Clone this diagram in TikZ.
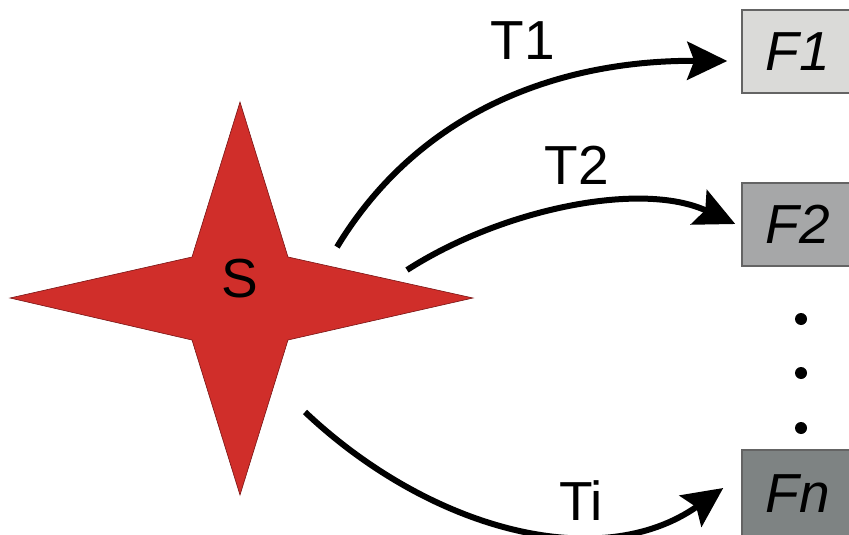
\documentclass[tikz,border=0pt]{standalone}
\usepackage{fontspec}
\setmainfont{Liberation Sans}
\usetikzlibrary{arrows.meta}

\definecolor{starred}{RGB}{208,46,42}
\definecolor{stardark}{RGB}{120,20,20}
\definecolor{boxA}{RGB}{218,218,216}
\definecolor{boxB}{RGB}{166,167,168}
\definecolor{boxC}{RGB}{126,131,131}
\definecolor{boxline}{RGB}{100,100,100}

\tikzset{
  bigfont/.style={font=\fontsize{55}{60}\selectfont},
  target/.style={draw=boxline, line width=1.5pt, minimum width=112pt, minimum height=83pt,
                 inner sep=0pt, font=\fontsize{55}{60}\selectfont\itshape},
  trans/.style={line width=6pt, -{Stealth[length=40pt, width=38pt, inset=7pt]}},
}

\begin{document}
\begin{tikzpicture}[x=1pt, y=-1pt]

  % 画布大小（与参考图一致）
  \useasboundingbox (0,0) rectangle (849,535);
  \clip (0,0) rectangle (849,535);

  % ---- 四角星 S ----
  \fill[starred, draw=stardark, line width=0.6pt]
    (10,298) -- (192,257) -- (240,102) -- (288,257) -- (473,298)
    -- (288,340) -- (240,495) -- (192,340) -- cycle;
  \node[bigfont] (S) at (240,279) {S};

  % ---- 目标方框 ----
  \node[target, fill=boxA] (F1) at (798,51.5) {F1};
  \node[target, fill=boxB] (F2) at (798,224.5) {F2};
  \node[target, fill=boxC, minimum height=88pt] (Fn) at (798,494) {Fn};

  % 省略号
  \foreach \y in {319,373,428}
    \fill (801,\y) circle (6pt);

  % ---- 曲线箭头的端点 ----
  \coordinate (s1) at (337,247);
  \coordinate (s2) at (407,270);
  \coordinate (si) at (305,412);
  \coordinate (e1) at ([xshift=-14pt]F1.west |- 0,61);
  \coordinate (e2) at ([xshift=-6pt]F2.west |- 0,224);
  \coordinate (ei) at ([xshift=-18pt]Fn.west |- 0,488);

  % ---- 曲线箭头 ----
  \draw[trans] (s1) .. controls (420,110) and (560,60) .. (e1);
  \draw[trans] (s2) .. controls (500,210) and (640,180) .. (e2);
  \draw[trans] (si) .. controls (430,530) and (600,575) .. (ei);

  % 标注
  \node[bigfont] (T1) at (523,41) {T1};
  \node[bigfont] (T2) at (577,165) {T2};
  \node[bigfont] (Ti) at (581,501) {Ti};

\end{tikzpicture}
\end{document}
